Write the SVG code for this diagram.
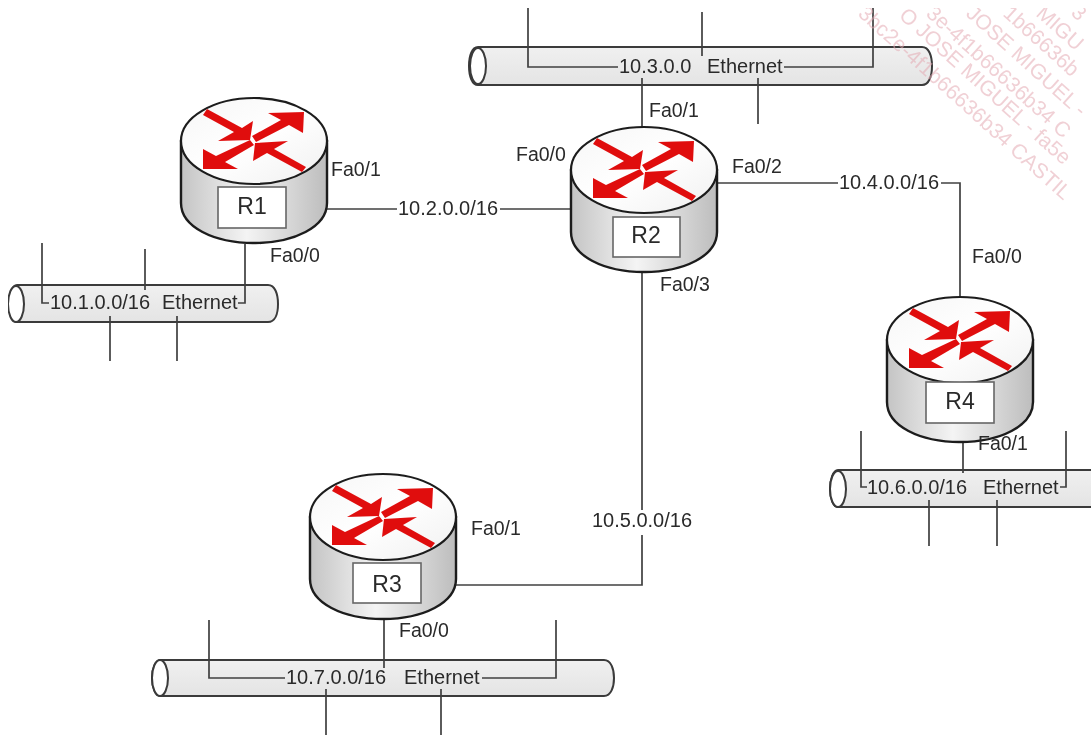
<svg xmlns="http://www.w3.org/2000/svg" width="1091" height="738" viewBox="0 0 1091 738">
<style>
.t{font-family:"Liberation Sans",Arial,sans-serif;font-size:19.5px;fill:#2a2a2a}
.n{font-size:20px}
.r{font-size:23px;text-anchor:middle}
.m{text-anchor:middle}
.l{fill:none;stroke:#404040;stroke-width:1.7}
.p{stroke:#3a3a3a;stroke-width:2;fill:url(#pg)}
.c{fill:#fff;stroke:#3a3a3a;stroke-width:2}
.b{fill:#fff;stroke:#666;stroke-width:1.6}
.w{font-family:"Liberation Sans",Arial,sans-serif;font-size:21px;fill:#e3a9b2;fill-opacity:.55}
</style>
<defs>
<filter id="soft" x="0" y="0" width="100%" height="100%"><feGaussianBlur stdDeviation="0.4"/></filter>
<linearGradient id="pg" x1="0" y1="0" x2="0" y2="1"><stop offset="0" stop-color="#f0f0f0"/><stop offset="1" stop-color="#e4e4e4"/></linearGradient>
<linearGradient id="bg" x1="0" y1="0" x2="1" y2="0"><stop offset="0" stop-color="#c4c4c4"/><stop offset=".45" stop-color="#f4f4f4"/><stop offset="1" stop-color="#bdbdbd"/></linearGradient>
<linearGradient id="tg" x1="0" y1="0" x2="1" y2="1"><stop offset="0" stop-color="#f6f6f6"/><stop offset=".5" stop-color="#ffffff"/><stop offset="1" stop-color="#f0f0f0"/></linearGradient>
<clipPath id="wc"><rect x="800" y="8" width="291" height="240"/></clipPath>
<g id="router">
<path d="M-73 0V62C-73 86 -40 102 0 102S73 86 73 62V0Z" fill="url(#bg)" stroke="#1c1c1c" stroke-width="2.4"/>
<ellipse cx="0" cy="0" rx="73" ry="43" fill="url(#tg)" stroke="#1c1c1c" stroke-width="2.2"/>
<path d="M-51 -26L-47 -32L-12 -13L-1 -20L-4 -1L-36 0L-20 -9Z" fill="#e01010"/>
<path d="M-2 -5L27 -21L14 -28L50 -29L49 -8L35 -16L2 1Z" fill="#e01010"/>
<path d="M-4 -1L-38 15L-51 8L-51 28L-16 28L-29 21L0 4Z" fill="#e01010"/>
<path d="M34 0L1 2L-1 20L13 12L48 31L52 26L20 8Z" fill="#e01010"/>
</g>
</defs>
<g filter="url(#soft)">
<g id="segment-10-3"><path class="p" d="M478 47H922C929 47 932 56 932 66S929 85 922 85H478C472 85 469 76 469 66S472 47 478 47Z"/><ellipse class="c" cx="478" cy="66" rx="8" ry="18"/></g>
<g id="segment-10-1"><path class="p" d="M17 285H268C275 285 278 294 278 304S275 322 268 322H17C12 322 9 313 9 304S12 285 17 285Z"/><ellipse class="c" cx="16" cy="304" rx="8" ry="18"/></g>
<g id="segment-10-6"><path class="p" d="M838 470H1095V507H838C833 507 830 498 830 489S833 470 838 470Z"/><ellipse class="c" cx="838" cy="489" rx="8" ry="18"/></g>
<g id="segment-10-7"><path class="p" d="M161 660H604C611 660 614 669 614 678S611 696 604 696H161C155 696 152 687 152 678S155 660 161 660Z"/><ellipse class="c" cx="160" cy="678" rx="8" ry="18"/></g>
<g id="connectors">
<path class="l" d="M528 8V67H618M784 67H873V8M702 12V56M642 78V127M758 78V124"/>
<path class="l" d="M42 243V303H49M145 249V290M245 244V303H238M110 316V361M177 316V361"/>
<path class="l" d="M327 209H397M500 209H571"/>
<path class="l" d="M718 183H838M941 183H960V297"/>
<path class="l" d="M642 272V510M642 535V585H456"/>
<path class="l" d="M963 440V473M861 431V487H867M1066 431V487H1060M929 500V546M997 500V546"/>
<path class="l" d="M384 618V668M209 620V678H285M482 678H556V620M326 689V735M441 689V735"/>
</g>
<g id="r1"><use href="#router" x="254" y="141"/><rect class="b" x="218" y="187" width="68" height="41"/><text class="t r" x="252" y="214">R1</text></g>
<g id="r2"><use href="#router" x="644" y="170"/><rect class="b" x="613" y="217" width="67" height="40"/><text class="t r" x="646" y="243">R2</text></g>
<g id="r3"><use href="#router" x="383" y="517"/><rect class="b" x="353" y="563" width="68" height="40"/><text class="t r" x="387" y="592">R3</text></g>
<g id="r4"><use href="#router" x="960" y="340"/><rect class="b" x="926" y="382" width="68" height="41"/><text class="t r" x="960" y="409">R4</text></g>
<g id="labels">
<text class="t" x="331" y="176">Fa0/1</text><text class="t" x="270" y="262">Fa0/0</text>
<text class="t n m" x="448" y="215">10.2.0.0/16</text>
<text class="t" x="516" y="161">Fa0/0</text><text class="t" x="649" y="117">Fa0/1</text><text class="t" x="732" y="173">Fa0/2</text><text class="t" x="660" y="291">Fa0/3</text>
<text class="t n m" x="889" y="189">10.4.0.0/16</text>
<text class="t" x="972" y="263">Fa0/0</text><text class="t" x="978" y="450">Fa0/1</text>
<text class="t n m" x="642" y="527">10.5.0.0/16</text>
<text class="t" x="471" y="535">Fa0/1</text><text class="t" x="399" y="637">Fa0/0</text>
<text class="t n" x="50" y="309">10.1.0.0/16</text><text class="t n" x="162" y="309">Ethernet</text>
<text class="t n" x="619" y="73">10.3.0.0</text><text class="t n" x="707" y="73">Ethernet</text>
<text class="t n" x="867" y="494">10.6.0.0/16</text><text class="t n" x="983" y="494">Ethernet</text>
<text class="t n" x="286" y="684">10.7.0.0/16</text><text class="t n" x="404" y="684">Ethernet</text>
</g>
<g id="watermark" clip-path="url(#wc)">
<text class="w" transform="translate(857 15) rotate(42)">3bc2e-4f1b66636b34 CASTIL</text>
<text class="w" transform="translate(898 17) rotate(42)">O JOSE MIGUEL - fa5e</text>
<text class="w" transform="translate(925 15) rotate(42)">3e-4f1b66636b34 C</text>
<text class="w" transform="translate(965 15) rotate(42)">JOSE MIGUEL -</text>
<text class="w" transform="translate(1002 15) rotate(42)">1b66636b</text>
<text class="w" transform="translate(1035 15) rotate(42)">MIGU</text>
<text class="w" transform="translate(1070 14) rotate(42)">3</text>
</g>
</g>
</svg>
